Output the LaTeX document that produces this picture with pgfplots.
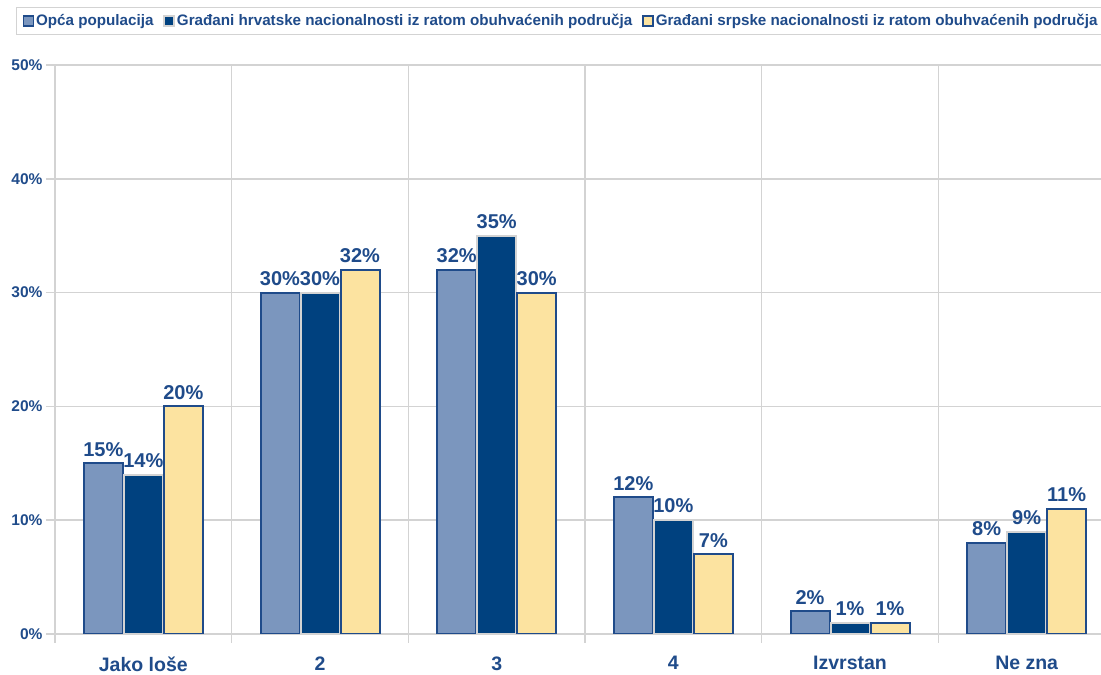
\documentclass[border=0pt]{standalone}
\usepackage{fontspec}
\setmainfont{Liberation Sans}
\usepackage{pgfplots}
\pgfplotsset{compat=1.18}

\definecolor{txtblue}{HTML}{1F4B8A}
\definecolor{lightbar}{HTML}{7B96BE}
\definecolor{darkbar}{HTML}{00417F}
\definecolor{yellowbar}{HTML}{FCE3A0}
\definecolor{gridgray}{HTML}{D3D3D3}

\begin{document}
\begin{tikzpicture}
\begin{axis}[
    name=ax,
    scale only axis,
    width=1060pt, height=569pt,
    xmin=-0.5, xmax=5.5,
    ymin=0, ymax=50,
    ybar, bar width=39pt,
    xtick={-0.5,0.5,...,5.5},
    xticklabels={Jako loše,2,3,4,Izvrstan,Ne zna},
    x tick label as interval,
    ytick={0,10,...,50},
    yticklabel={\pgfmathprintnumber{\tick}\%},
    /pgf/number format/assume math mode=true,
    grid=major,
    grid style={draw=gridgray, line width=1.5pt},
    axis line style={draw=gridgray, line width=1.5pt},
    tick style={draw=gridgray, line width=1.5pt},
    tick align=outside,
    tick pos=left,
    major tick length=9pt,
    x tick label style={font=\bfseries\fontsize{19.5}{19.5}\selectfont, text=txtblue, yshift=-10pt},
    y tick label style={font=\bfseries\fontsize{15.5}{15.5}\selectfont, text=txtblue},
    nodes near coords={\pgfmathprintnumber{\pgfplotspointmeta}\%},
    every node near coord/.append style={font=\bfseries\fontsize{20}{20}\selectfont, text=txtblue, inner sep=2pt, yshift=4pt},
    legend columns=3,
    legend style={at={(-0.0368,1.1019)}, anchor=north west, draw=gridgray, line width=1.2pt,
        font=\bfseries\fontsize{15.2}{15.2}\selectfont, text=txtblue, inner xsep=6pt, inner ysep=5pt,
        /tikz/every even column/.append style={column sep=8pt}},
    legend image code/.code={\draw[#1, line width=1.5pt] (0pt,-5pt) rectangle (10pt,5pt);},
]
\addplot[bar shift=-40pt, fill=lightbar, draw=txtblue, line width=2pt]
    coordinates {(0,15) (1,30) (2,32) (3,12) (4,2) (5,8)};
\addlegendentry{Opća populacija}
\addplot[bar shift=0pt, fill=darkbar, draw=gridgray, line width=2pt]
    coordinates {(0,14) (1,30) (2,35) (3,10) (4,1) (5,9)};
\addlegendentry{Građani hrvatske nacionalnosti iz ratom obuhvaćenih područja}
\addplot[bar shift=40pt, fill=yellowbar, draw=txtblue, line width=2pt]
    coordinates {(0,20) (1,32) (2,30) (3,7) (4,1) (5,11)};
\addlegendentry{Građani srpske nacionalnosti iz ratom obuhvaćenih područja}
\end{axis}
\pgfresetboundingbox
\path ([shift={(-55pt,-41pt)}]ax.south west) rectangle ([shift={(-14pt,65pt)}]ax.north east);
\end{tikzpicture}
\end{document}
